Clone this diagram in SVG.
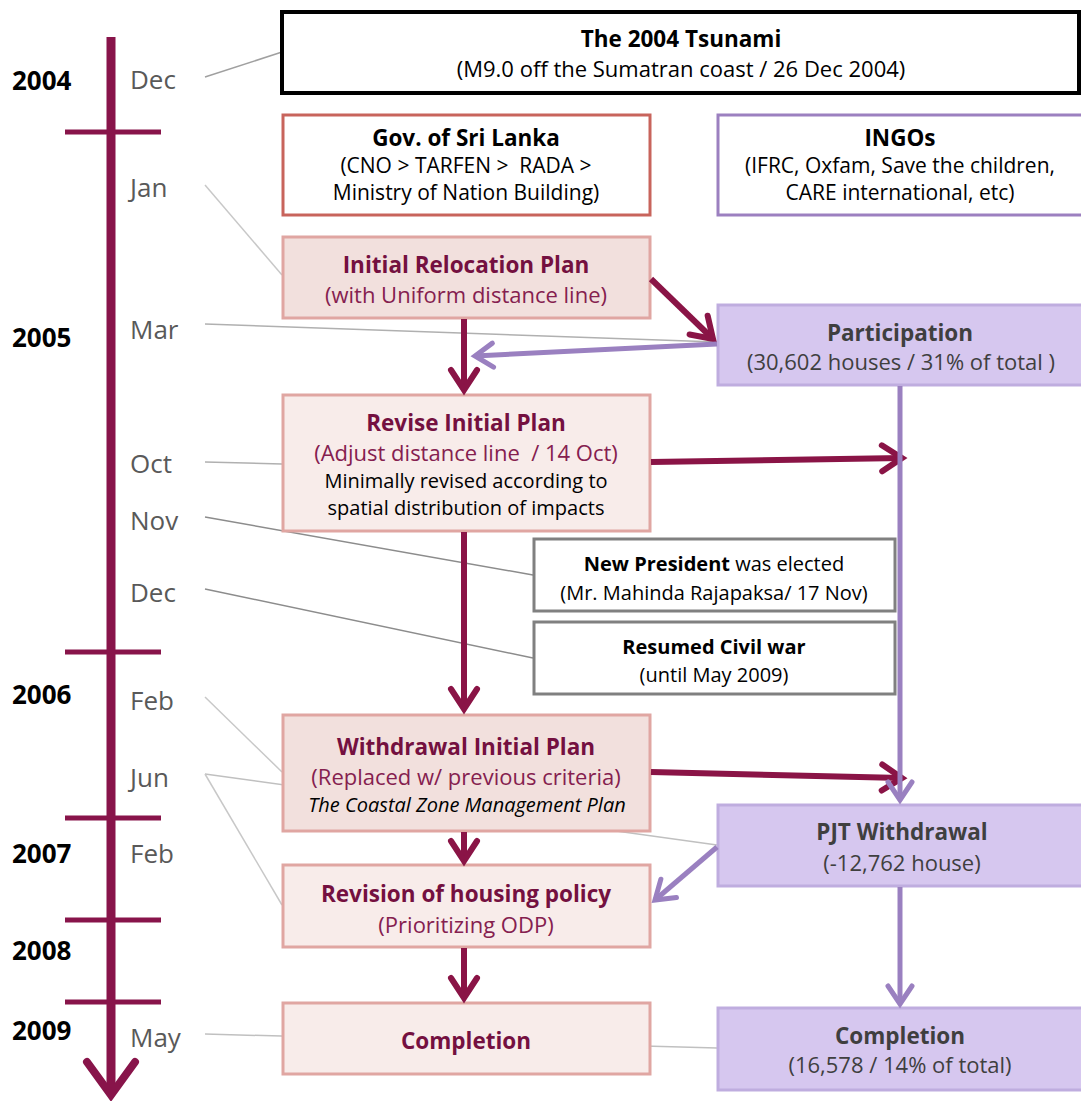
<svg xmlns="http://www.w3.org/2000/svg" width="1081" height="1101" viewBox="0 0 1081 1101">
  <defs>
    <style>
      text { font-family: "Open Sans", "Liberation Sans", sans-serif; }
      .yr { font-size: 26px; font-weight: bold; fill: #000; }
      .mo { font-size: 26px; fill: #595959; }
      .t  { font-size: 22.5px; font-weight: bold; text-anchor: middle; }
      .s  { font-size: 22px; text-anchor: middle; }
      .d  { font-size: 20px; text-anchor: middle; }
      .g  { font-size: 21px; text-anchor: middle; }
      .blk { fill: #000; }
      .mt { fill: #741040; }
      .ms { fill: #85204f; }
      .pt { fill: #3f3f3f; }
      .lead { stroke-width: 1.5; fill: none; }
      .arM { stroke: #8a1446; stroke-width: 6; fill: none; marker-end: url(#hM); }
      .arP { stroke: #9a80c0; stroke-width: 5; fill: none; marker-end: url(#hP); }
      .plan { stroke: #e0a6a2; stroke-width: 3; }
      .dark { fill: #f2e0dd; }
      .light { fill: #f8ecea; }
      .ingo { fill: #d6c7ef; stroke: #bfaddf; stroke-width: 3; }
      .note { fill: #fff; stroke: #808080; stroke-width: 3; }
    </style>
    <marker id="hM" markerUnits="userSpaceOnUse" viewBox="-30 -20 40 40" markerWidth="40" markerHeight="40" refX="0" refY="0" orient="auto" overflow="visible">
      <path d="M-20,-13 L0,0 L-20,13" fill="none" stroke="#8a1446" stroke-width="6" stroke-linecap="round"/>
    </marker>
    <marker id="hP" markerUnits="userSpaceOnUse" viewBox="-30 -20 40 40" markerWidth="40" markerHeight="40" refX="0" refY="0" orient="auto" overflow="visible">
      <path d="M-18,-12 L0,0 L-18,12" fill="none" stroke="#9a80c0" stroke-width="5" stroke-linecap="round"/>
    </marker>
  </defs>
  <rect width="1081" height="1101" fill="#fff"/>

  <!-- timeline axis -->
  <g id="timeline">
    <line x1="111" y1="37" x2="111" y2="1093" stroke="#88144a" stroke-width="9"/>
    <path d="M87,1062 L111,1095 L135,1062" fill="none" stroke="#88144a" stroke-width="8" stroke-linecap="round"/>
    <g stroke="#88144a" stroke-width="5">
      <line x1="65" y1="132" x2="161" y2="132"/>
      <line x1="65" y1="652" x2="161" y2="652"/>
      <line x1="65" y1="818" x2="161" y2="818"/>
      <line x1="65" y1="920" x2="161" y2="920"/>
      <line x1="65" y1="1002" x2="161" y2="1002"/>
    </g>
    <text class="yr" x="12" y="90">2004</text>
    <text class="yr" x="12" y="347">2005</text>
    <text class="yr" x="12" y="704">2006</text>
    <text class="yr" x="12" y="863">2007</text>
    <text class="yr" x="12" y="960">2008</text>
    <text class="yr" x="12" y="1040">2009</text>
    <text class="mo" x="130" y="89">Dec</text>
    <text class="mo" x="130" y="197">Jan</text>
    <text class="mo" x="130" y="339">Mar</text>
    <text class="mo" x="130" y="473">Oct</text>
    <text class="mo" x="130" y="530">Nov</text>
    <text class="mo" x="130" y="602">Dec</text>
    <text class="mo" x="130" y="710">Feb</text>
    <text class="mo" x="130" y="787">Jun</text>
    <text class="mo" x="130" y="863">Feb</text>
    <text class="mo" x="130" y="1047">May</text>
  </g>

  <!-- date leader lines (behind the boxes) -->
  <g id="leaders" class="lead">
    <line x1="205" y1="77" x2="282" y2="52" stroke="#a0a0a0"/>
    <line x1="205" y1="185" x2="282" y2="275" stroke="#c8c8c8"/>
    <line x1="205" y1="324" x2="717" y2="342" stroke="#b0b0b0"/>
    <line x1="205" y1="462" x2="282" y2="464" stroke="#b0b0b0"/>
    <line x1="205" y1="517" x2="533" y2="575" stroke="#8c8c8c"/>
    <line x1="205" y1="589" x2="533" y2="658" stroke="#8c8c8c"/>
    <line x1="205" y1="697" x2="282" y2="772" stroke="#c8c8c8"/>
    <line x1="205" y1="774" x2="717" y2="845" stroke="#c0c0c0"/>
    <line x1="205" y1="774" x2="282" y2="905" stroke="#c8c8c8"/>
    <line x1="205" y1="1034" x2="717" y2="1048" stroke="#c0c0c0"/>
  </g>

  <!-- nodes -->
  <g id="tsunami">
    <rect x="282" y="12" width="797" height="81" fill="#fff" stroke="#000" stroke-width="4"/>
    <text class="t blk" x="681" y="47" font-size="23px">The 2004 Tsunami</text>
    <text class="s blk" x="681" y="77">(M9.0 off the Sumatran coast / 26 Dec 2004)</text>
  </g>
  <g id="gov">
    <rect x="283" y="115" width="367" height="100" fill="#fff" stroke="#c8645c" stroke-width="3"/>
    <text class="t blk" x="466" y="146" font-size="22px">Gov. of Sri Lanka</text>
    <text class="g blk" x="466" y="173" xml:space="preserve">(CNO &gt; TARFEN &gt;  RADA &gt;</text>
    <text class="g blk" x="466" y="200">Ministry of Nation Building)</text>
  </g>
  <g id="ingos">
    <rect x="718" y="115" width="370" height="100" fill="#fff" stroke="#9c80c0" stroke-width="3"/>
    <text class="t blk" x="900" y="146" font-size="22px">INGOs</text>
    <text class="g blk" x="900" y="173">(IFRC, Oxfam, Save the children,</text>
    <text class="g blk" x="900" y="200">CARE international, etc)</text>
  </g>
  <g id="initial-plan">
    <rect class="plan dark" x="283" y="237" width="367" height="81"/>
    <text class="t mt" x="466" y="273">Initial Relocation Plan</text>
    <text class="s ms" x="466" y="303">(with Uniform distance line)</text>
  </g>
  <g id="participation">
    <rect class="ingo" x="718" y="305" width="370" height="80"/>
    <text class="t pt" x="900" y="341">Participation</text>
    <text class="s pt" x="901" y="370">(30,602 houses / 31% of total )</text>
  </g>
  <g id="revise-plan">
    <rect class="plan light" x="283" y="395" width="367" height="136"/>
    <text class="t mt" x="466" y="431">Revise Initial Plan</text>
    <text class="s ms" x="466" y="461" xml:space="preserve">(Adjust distance line  / 14 Oct)</text>
    <text class="d blk" x="466" y="488">Minimally revised according to</text>
    <text class="d blk" x="466" y="515">spatial distribution of impacts</text>
  </g>
  <g id="new-president">
    <rect class="note" x="534" y="539" width="361" height="72"/>
    <text class="d blk" x="714" y="571" font-size="21px"><tspan font-weight="bold">New President</tspan> was elected</text>
    <text class="d blk" x="714" y="600">(Mr. Mahinda Rajapaksa/ 17 Nov)</text>
  </g>
  <g id="civil-war">
    <rect class="note" x="534" y="622" width="361" height="72"/>
    <text class="d blk" x="714" y="654" font-size="20.7px" font-weight="bold">Resumed Civil war</text>
    <text class="d blk" x="714" y="682">(until May 2009)</text>
  </g>
  <g id="withdrawal-plan">
    <rect class="plan dark" x="283" y="715" width="367" height="116"/>
    <text class="t mt" x="466" y="755">Withdrawal Initial Plan</text>
    <text class="s ms" x="466" y="785">(Replaced w/ previous criteria)</text>
    <text class="d blk" x="467" y="812" font-size="21px" font-style="italic">The Coastal Zone Management Plan</text>
  </g>
  <g id="pjt-withdrawal">
    <rect class="ingo" x="718" y="805" width="370" height="81"/>
    <text class="t pt" x="902" y="840" font-size="23px">PJT Withdrawal</text>
    <text class="s pt" x="902" y="871" font-size="23px">(-12,762 house)</text>
  </g>
  <g id="housing-policy">
    <rect class="plan light" x="283" y="865" width="367" height="82"/>
    <text class="t mt" x="466" y="902">Revision of housing policy</text>
    <text class="s ms" x="466" y="933">(Prioritizing ODP)</text>
  </g>
  <g id="gov-completion">
    <rect class="plan light" x="283" y="1003" width="367" height="71"/>
    <text class="t mt" x="466" y="1049">Completion</text>
  </g>
  <g id="ingo-completion">
    <rect class="ingo" x="718" y="1008" width="370" height="82"/>
    <text class="t pt" x="900" y="1044">Completion</text>
    <text class="s pt" x="900" y="1073">(16,578 / 14% of total)</text>
  </g>

  <!-- flow arrows -->
  <g id="connectors">
    <line class="arM" x1="651" y1="279" x2="713" y2="339"/>
    <line class="arM" x1="464" y1="319" x2="464" y2="390"/>
    <line class="arM" x1="651" y1="462" x2="902" y2="458"/>
    <line class="arM" x1="464" y1="532" x2="464" y2="709"/>
    <line class="arM" x1="651" y1="772" x2="902" y2="778"/>
    <line class="arM" x1="464" y1="832" x2="464" y2="861"/>
    <line class="arM" x1="464" y1="948" x2="464" y2="998"/>
    <line class="arP" x1="717" y1="344" x2="475" y2="356"/>
    <line class="arP" x1="900" y1="386" x2="900" y2="800"/>
    <line class="arP" x1="717" y1="847" x2="655" y2="900"/>
    <line class="arP" x1="900" y1="887" x2="900" y2="1004"/>
  </g>
</svg>
